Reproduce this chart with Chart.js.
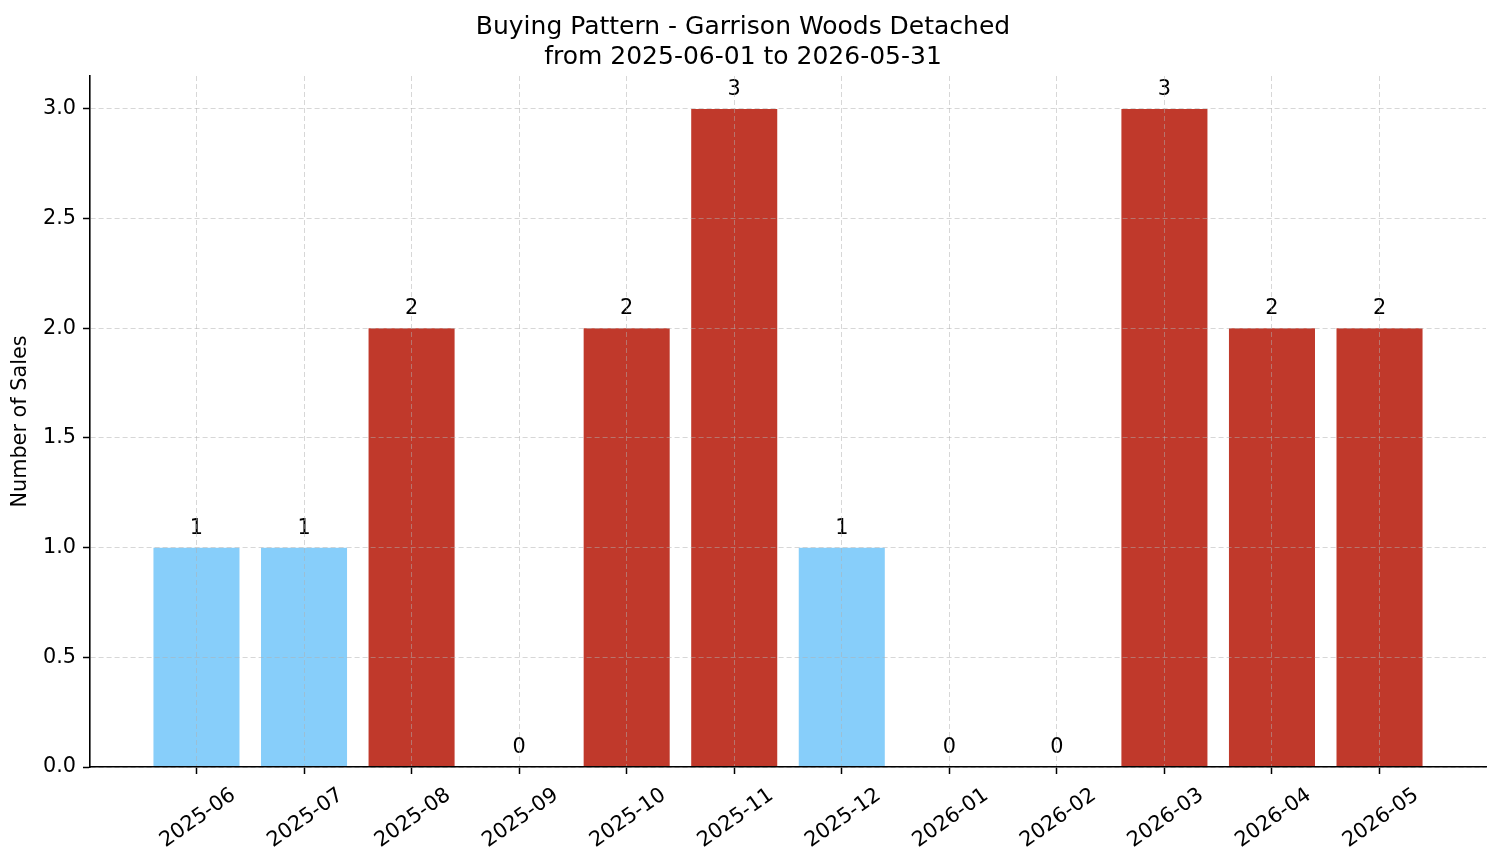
<!DOCTYPE html>
<html>
<head>
<meta charset="utf-8">
<script src="https://cdn.jsdelivr.net/npm/chart.js@4.4.1/dist/chart.umd.min.js"></script>
<style>
  html, body { margin: 0; padding: 0; background: #fff; }
  #wrap { width: 1501px; height: 863px; }
</style>
</head>
<body>
<div id="wrap"><canvas id="salesChart" width="1501" height="863"></canvas></div>
<script>
const months = ["2025-06", "2025-07", "2025-08", "2025-09", "2025-10", "2025-11",
  "2025-12", "2026-01", "2026-02", "2026-03", "2026-04", "2026-05"];
const sales = [1, 1, 2, 0, 2, 3, 1, 0, 0, 3, 2, 2];
const yTicks = [0, 0.5, 1.0, 1.5, 2.0, 2.5, 3.0];
const titleLines = ["Buying Pattern - Garrison Woods Detached", "from 2025-06-01 to 2026-05-31"];

const RED = "#c0392b";
const BLUE = "#87cefa";
const gridColor = "rgba(176,176,176,0.5)";

Chart.defaults.font.family = "'DejaVu Sans', sans-serif";
Chart.defaults.color = "#000";

const barLabels = {
  id: "barLabels",
  afterDatasetsDraw(chart) {
    const ctx = chart.ctx;
    const meta = chart.getDatasetMeta(0);
    ctx.save();
    ctx.font = "20.8px 'DejaVu Sans'";
    ctx.fillStyle = "#000";
    ctx.textAlign = "center";
    ctx.textBaseline = "alphabetic";
    meta.data.forEach((bar, i) => {
      ctx.fillText(String(sales[i]), bar.x, bar.y - 14);
    });
    ctx.restore();
  }
};

const ctx = document.getElementById("salesChart").getContext("2d");

new Chart(ctx, {
  type: "bar",
  data: {
    datasets: [{
      data: sales.map((v, i) => ({ x: i, y: v })),
      backgroundColor: sales.map(v => v >= 2 ? RED : BLUE),
      borderWidth: 0,
      categoryPercentage: 0.8,
      barPercentage: 1.0
    }]
  },
  options: {
    responsive: false,
    animation: false,
    layout: { padding: { left: 0, right: 15, top: 0, bottom: 0 } },
    plugins: {
      legend: { display: false },
      tooltip: { enabled: false },
      title: {
        display: true,
        text: titleLines,
        font: { size: 25, weight: "normal" },
        lineHeight: 1.14,
        color: "#000",
        padding: { top: 12, bottom: 4 }
      }
    },
    scales: {
      x: {
        type: "linear",
        min: -0.99,
        max: 11.99,
        offset: false,
        afterBuildTicks: scale => {
          scale.ticks = months.map((m, i) => ({ value: i }));
        },
        afterFit: scale => { scale.height = 96; },
        ticks: {
          autoSkip: false,
          minRotation: 35,
          maxRotation: 35,
          labelOffset: 37,
          padding: 9,
          font: { size: 20.8 },
          color: "#000",
          callback: (v) => months[v]
        },
        grid: {
          offset: false,
          color: gridColor,
          lineWidth: 1,
          z: 1,
          tickColor: "#000",
          tickLength: 7,
          tickWidth: 1.5
        },
        border: { display: true, color: "#000", width: 1.6, dash: [5, 3], z: 2 }
      },
      y: {
        type: "linear",
        min: 0,
        max: 3.15,
        afterBuildTicks: scale => {
          scale.ticks = yTicks.map(v => ({ value: v }));
        },
        afterFit: scale => { scale.width = 90; },
        ticks: {
          padding: 7,
          font: { size: 20.8 },
          color: "#000",
          callback: v => Number(v).toFixed(1)
        },
        grid: {
          color: gridColor,
          lineWidth: 1,
          z: 1,
          tickColor: "#000",
          tickLength: 7,
          tickWidth: 1.5
        },
        border: { display: true, color: "#000", width: 1.6, dash: [5, 3], z: 2 },
        title: {
          display: true,
          text: "Number of Sales",
          font: { size: 20.8 },
          color: "#000",
          padding: { top: 8, bottom: 0 }
        }
      }
    }
  },
  plugins: [barLabels]
});
</script>
</body>
</html>
